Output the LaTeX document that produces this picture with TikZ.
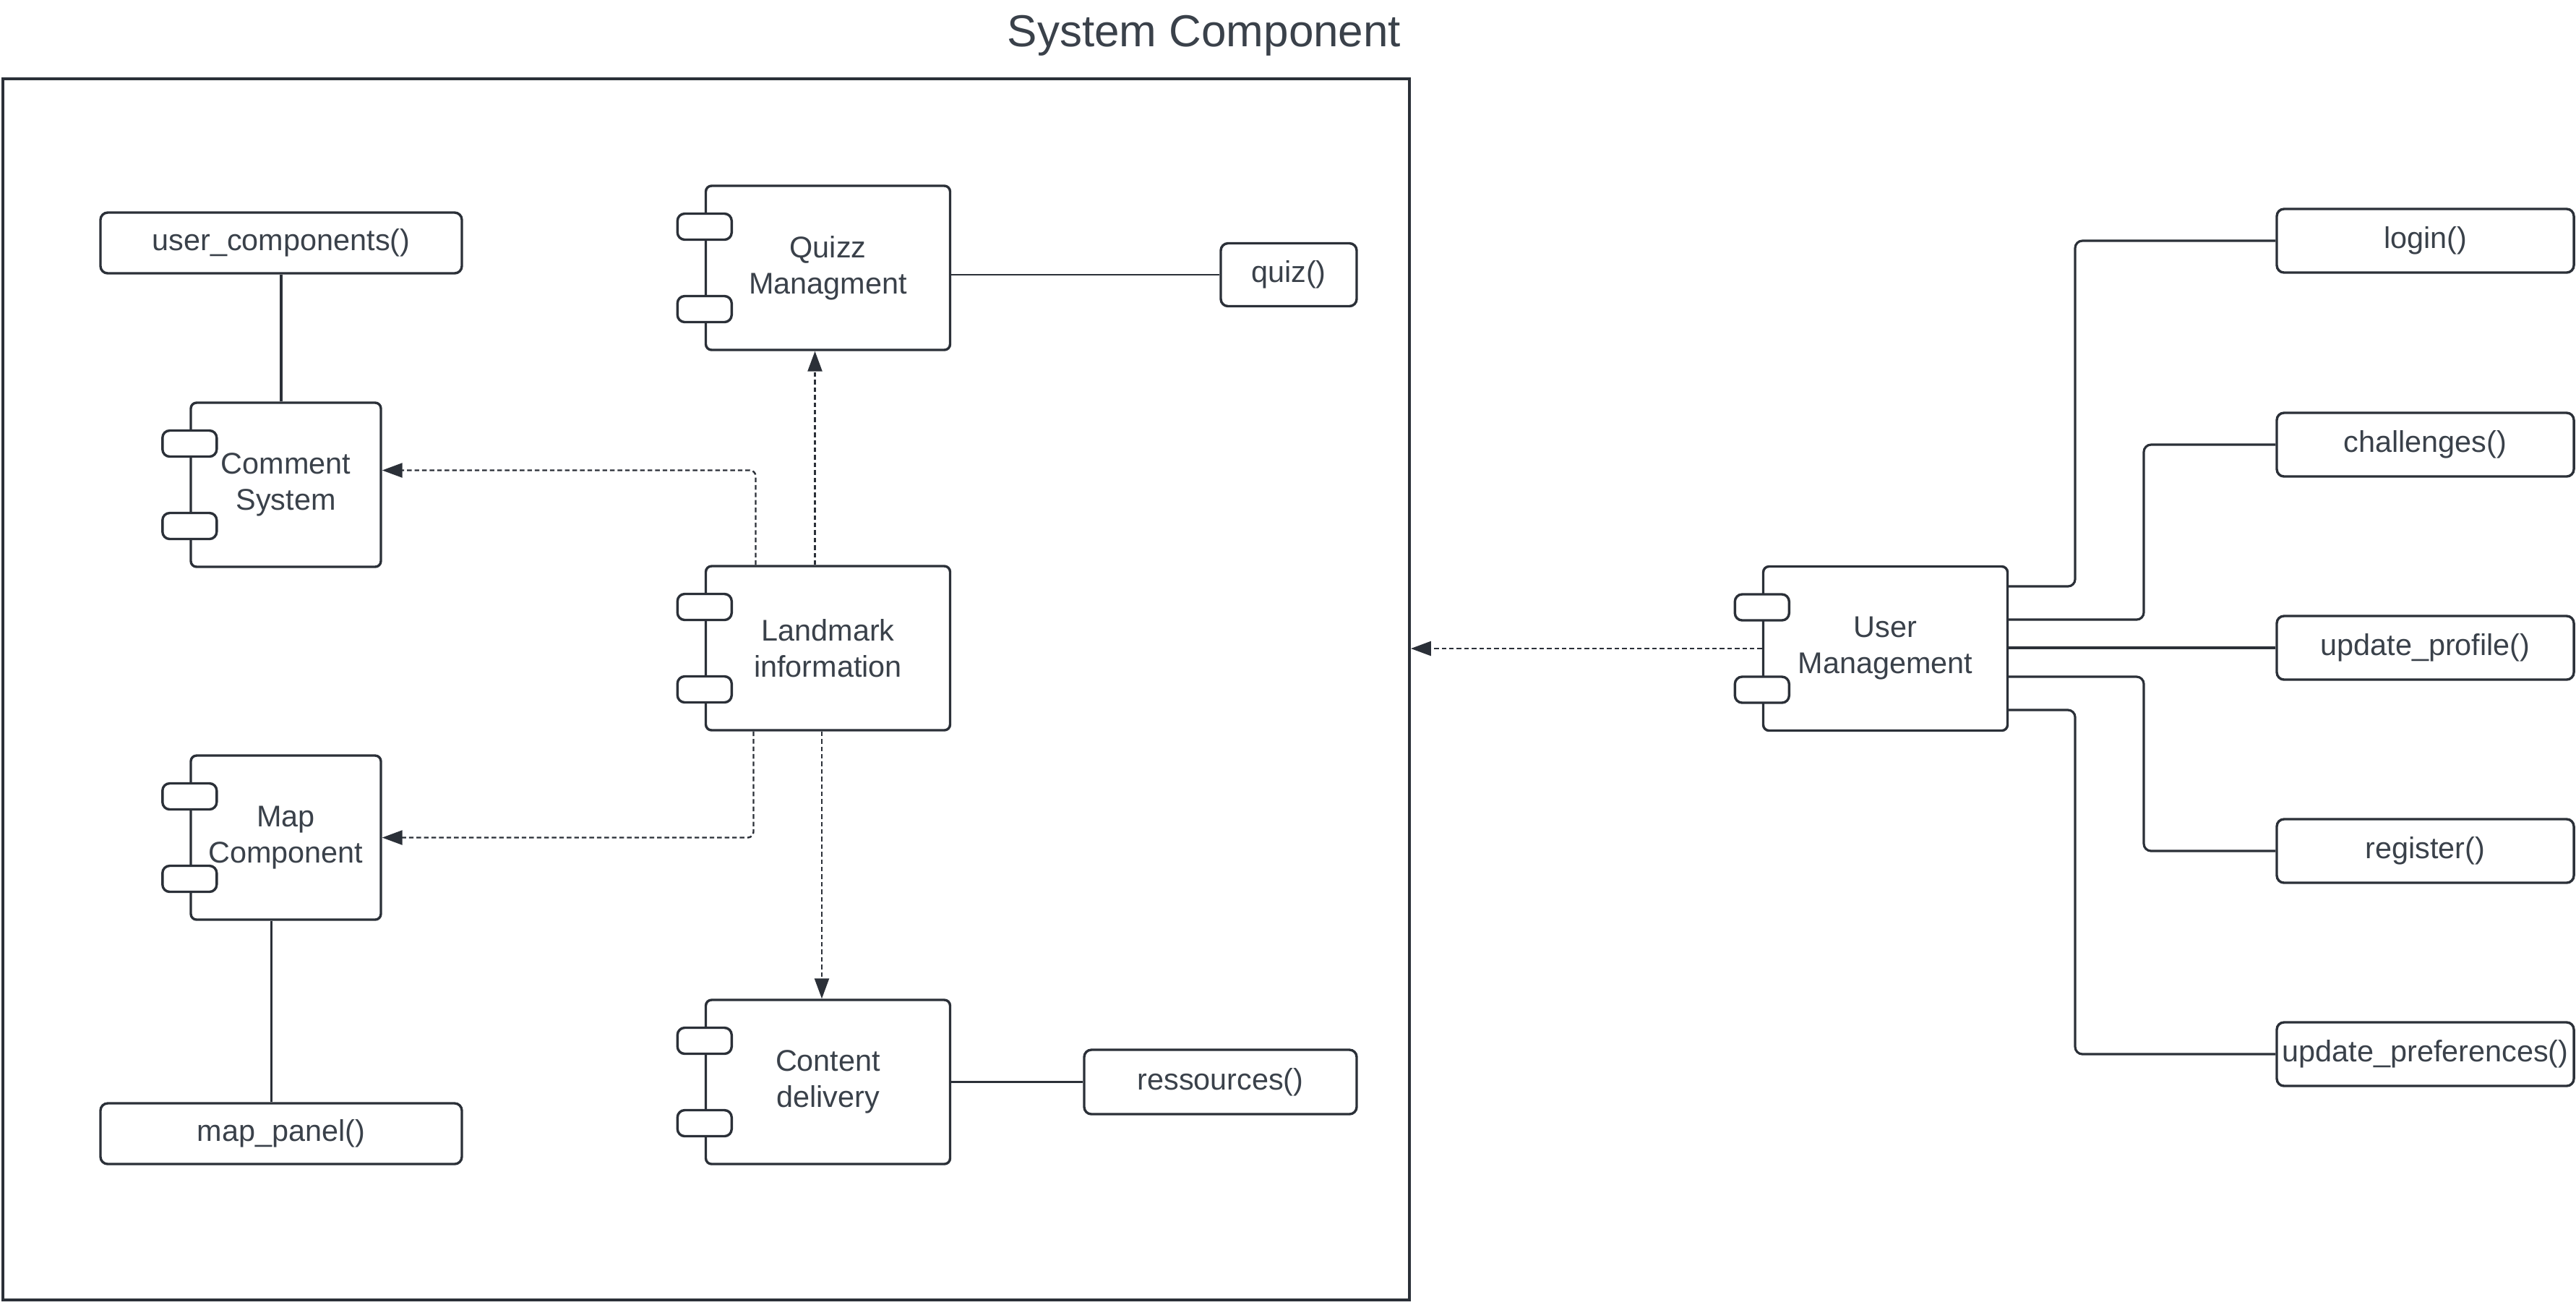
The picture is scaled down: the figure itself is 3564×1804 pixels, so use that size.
\documentclass[tikz,border=0pt]{standalone}
\usepackage{fontspec}
\setmainfont{Liberation Sans}
\usetikzlibrary{arrows.meta,calc}
\definecolor{ln}{HTML}{2B3038}
\definecolor{tx}{HTML}{3A414A}
\newcommand\mytabs[1]{%
  \node[tabbox] (#1-t1) at ($(#1.west)+(0,-57)$) {};
  \node[tabbox] (#1-t2) at ($(#1.west)+(0,57)$) {};}
\begin{document}
\begin{tikzpicture}[x=0.25pt,y=-0.25pt,
  every node/.style={text=tx, font=\fontsize{10.35pt}{12.5pt}\selectfont, inner sep=0pt},
  comp/.style={draw=ln, line width=0.85pt, rounded corners=2pt, fill=white, align=center, minimum height=56.75pt},
  smallcomp/.style={comp, minimum width=65.75pt},
  bigcomp/.style={comp, minimum width=84.5pt},
  tabbox/.style={draw=ln, line width=0.85pt, rounded corners=2.5pt, fill=white, minimum width=18.75pt, minimum height=9pt},
  iface/.style={draw=ln, line width=0.85pt, rounded corners=2.5pt, fill=white, minimum height=21pt},
  link/.style={draw=ln, line width=0.8pt},
  thinlink/.style={draw=ln, line width=0.55pt},
  rlink/.style={draw=ln, line width=0.8pt, rounded corners=2.5pt},
  darr/.style={draw=ln, line width=0.6pt, dash pattern=on 1.6pt off 1pt, rounded corners=2pt, -{Triangle[length=7pt,width=5pt]}}
]
\useasboundingbox (0,0) rectangle (3564,1804);

% frame and title
\node[draw=ln, line width=1.05pt, minimum width=486.4pt, minimum height=422.25pt] (frame) at (977,953.5) {};
\node[font=\fontsize{15.5pt}{18pt}\selectfont] (title) at (1666,49) {System Component};

% components
\node[smallcomp] (comment) at (395.5,670.5) {Comment\\System};
\mytabs{comment}
\node[smallcomp] (map) at (395.5,1158.5) {Map\\Component};
\mytabs{map}
\node[bigcomp] (quizz) at (1145.5,370.5) {Quizz\\Managment};
\mytabs{quizz}
\node[bigcomp] (land) at (1145.5,896.5) {Landmark\\information};
\mytabs{land}
\node[bigcomp] (content) at (1145.5,1496.5) {Content\\delivery};
\mytabs{content}
\node[bigcomp] (user) at (2608.5,897) {User\\Management};
\mytabs{user}

% interfaces
\node[iface, minimum width=125pt] (uc) at (389,336) {user\_components()};
\node[iface, minimum width=47pt, minimum height=21.75pt] (quiz) at (1783,380) {quiz()};
\node[iface, minimum width=125pt] (mp) at (389,1568) {map\_panel()};
\node[iface, minimum width=94.25pt, minimum height=22.25pt] (res) at (1688.5,1496.5) {ressources()};
\node[iface, minimum width=102.75pt, minimum height=22pt] (login) at (3355.5,333) {login()};
\node[iface, minimum width=102.75pt, minimum height=22pt] (chal) at (3355.5,615) {challenges()};
\node[iface, minimum width=102.75pt, minimum height=22pt] (prof) at (3355.5,896) {update\_profile()};
\node[iface, minimum width=102.75pt, minimum height=22pt] (reg) at (3355.5,1177) {register()};
\node[iface, minimum width=102.75pt, minimum height=22pt] (pref) at (3355.5,1458) {update\_preferences()};

% solid links
\draw[link] (uc.south) -- (uc.south |- comment.north);
\draw[thinlink] ($(map.south)+(-20,0)$) coordinate (ms) -- (ms |- mp.north);
\draw[thinlink] (quizz.east |- quiz.west) -- (quiz.west);
\draw[thinlink] (content.east) -- (res.west);

% dashed dependencies
\draw[darr] ($(land.north)+(-18,0)$) coordinate (lq) -- (lq |- quizz.south);
\draw[darr] ($(land.north)+(-100,0)$) |- ($(comment.east)+(0,-20)$);
\draw[darr] ($(land.south)+(-103,0)$) |- (map.east);
\draw[darr] ($(land.south)+(-8.5,0)$) coordinate (lc) -- (lc |- content.north);
\draw[darr] (user.west) -- (user.west -| frame.east);

% user management interfaces
\draw[rlink] ($(user.east)+(0,-86)$) -| (2871,600) |- (login.west);
\draw[rlink] ($(user.east)+(0,-40)$) -| (2966,700) |- (chal.west);
\draw[link] (user.east |- prof.west) -- (prof.west);
\draw[rlink] ($(user.east)+(0,39)$) -| (2966,1100) |- (reg.west);
\draw[rlink] ($(user.east)+(0,85)$) -| (2871,1300) |- (pref.west);
\end{tikzpicture}
\end{document}
